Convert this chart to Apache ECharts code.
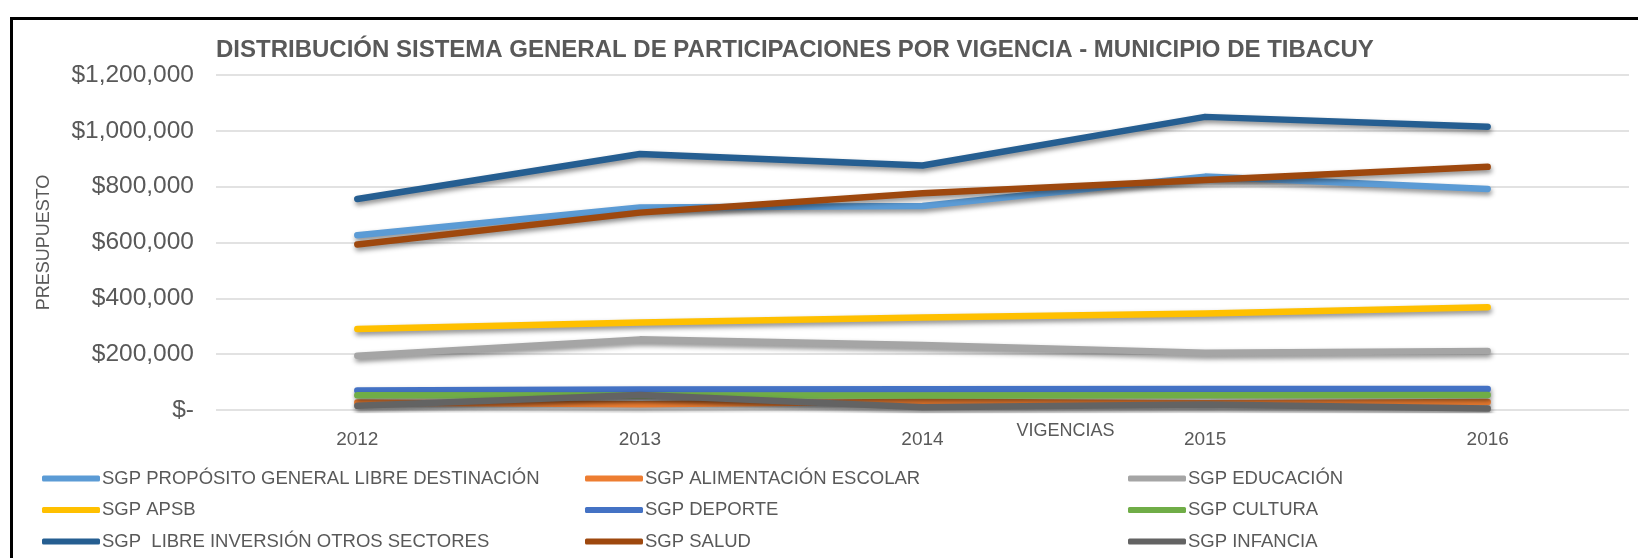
<!DOCTYPE html>
<html>
<head>
<meta charset="utf-8">
<script src="https://cdn.jsdelivr.net/npm/echarts@6/dist/echarts.min.js"></script>
<style>
  html, body { margin: 0; padding: 0; background: #fff; overflow: hidden; }
  #chart { width: 1638px; height: 558px; }
</style>
</head>
<body>
<div id="chart"></div>
<script>
const years = ['2012', '2013', '2014', '2015', '2016'];
const yTicks = [0, 200000, 400000, 600000, 800000, 1000000, 1200000];

const proposito = [626000, 725000, 731000, 836000, 792000];
const alimentacion = [27000, 21000, 30000, 24000, 29000];
const educacion = [194000, 253000, 233000, 205000, 211000];
const apsb = [290000, 313000, 331000, 346000, 368000];
const deporte = [70000, 73000, 74000, 75000, 75000];
const cultura = [53000, 52000, 52000, 53000, 54000];
const libreInversion = [756000, 917000, 876000, 1050000, 1015000];
const salud = [593000, 707000, 776000, 824000, 871000];
const infancia = [15000, 54000, 10000, 20000, 5000];

const seriesNames = [
  'SGP PROPÓSITO GENERAL LIBRE DESTINACIÓN',
  'SGP ALIMENTACIÓN ESCOLAR',
  'SGP EDUCACIÓN',
  'SGP APSB',
  'SGP DEPORTE',
  'SGP CULTURA',
  'SGP  LIBRE INVERSIÓN OTROS SECTORES',
  'SGP SALUD',
  'SGP INFANCIA'
];
const seriesData = [proposito, alimentacion, educacion, apsb, deporte, cultura, libreInversion, salud, infancia];
const colors = ['#5B9BD5', '#ED7D31', '#A5A5A5', '#FFC000', '#4472C4', '#70AD47', '#255E91', '#9E480E', '#636363'];

const FONT = "'Liberation Sans', Arial, sans-serif";
const TEXT = '#595959';

function money(v) {
  if (v === 0) return '$-';
  return '$' + v.toString().replace(/\B(?=(\d{3})+(?!\d))/g, ',');
}

// legend is laid out in three columns of three rows, like the original
function legendColumn(left, names) {
  return {
    orient: 'vertical',
    left: left,
    top: 469,
    height: 90,
    padding: 0,
    itemWidth: 58,
    itemHeight: 6,
    itemGap: 12.5,
    icon: 'roundRect',
    textStyle: { fontFamily: FONT, fontSize: 18.5, lineHeight: 18, color: TEXT, padding: [0, 0, 0, -3] },
    data: names
  };
}

const chart = echarts.init(document.getElementById('chart'));

const option = {
  animation: false,
  color: colors,
  title: {
    text: 'DISTRIBUCIÓN SISTEMA GENERAL DE PARTICIPACIONES POR VIGENCIA - MUNICIPIO DE TIBACUY',
    left: 216,
    top: 38,
    padding: 0,
    textStyle: { fontFamily: FONT, fontSize: 24, fontWeight: 'bold', color: TEXT }
  },
  legend: [
    legendColumn(42, [seriesNames[0], seriesNames[3], seriesNames[6]]),
    legendColumn(585, [seriesNames[1], seriesNames[4], seriesNames[7]]),
    legendColumn(1128, [seriesNames[2], seriesNames[5], seriesNames[8]])
  ],
  grid: { left: 216, right: 9, top: 75, height: 335, containLabel: false },
  xAxis: {
    type: 'category',
    data: years,
    boundaryGap: true,
    axisLine: { show: false },
    axisTick: { show: false },
    axisLabel: { fontFamily: FONT, fontSize: 19, color: TEXT, margin: 20 },
    name: 'VIGENCIAS',
    nameLocation: 'middle',
    nameGap: 12,
    nameMoveOverlap: false,
    nameTextStyle: { fontFamily: FONT, fontSize: 18, color: TEXT, padding: [0, 0, 0, 286] }
  },
  yAxis: {
    type: 'value',
    min: 0,
    max: yTicks[yTicks.length - 1],
    interval: yTicks[1] - yTicks[0],
    axisLine: { show: false },
    axisTick: { show: false },
    splitLine: { lineStyle: { color: '#D9D9D9', width: 1.5 } },
    axisLabel: { fontFamily: FONT, fontSize: 24.5, color: TEXT, margin: 22, formatter: money },
    name: 'PRESUPUESTO',
    nameLocation: 'middle',
    nameGap: 163,
    nameMoveOverlap: false,
    nameTextStyle: { fontFamily: FONT, fontSize: 18, color: TEXT }
  },
  graphic: [
    {
      type: 'line',
      shape: { x1: 11.5, y1: 18.5, x2: 1640, y2: 18.5 },
      style: { stroke: '#000', lineWidth: 3 },
      silent: true
    },
    {
      type: 'line',
      shape: { x1: 11.5, y1: 17, x2: 11.5, y2: 560 },
      style: { stroke: '#000', lineWidth: 3 },
      silent: true
    }
  ],
  series: seriesData.map((d, i) => ({
    name: seriesNames[i],
    type: 'line',
    data: d,
    showSymbol: false,
    symbol: 'none',
    lineStyle: {
      width: 6.5,
      color: colors[i],
      cap: 'round',
      join: 'round',
      shadowColor: 'rgba(0, 0, 0, 0.45)',
      shadowBlur: 5,
      shadowOffsetX: 1,
      shadowOffsetY: 3
    },
    itemStyle: { color: colors[i] }
  }))
};

chart.setOption(option);
</script>
</body>
</html>
